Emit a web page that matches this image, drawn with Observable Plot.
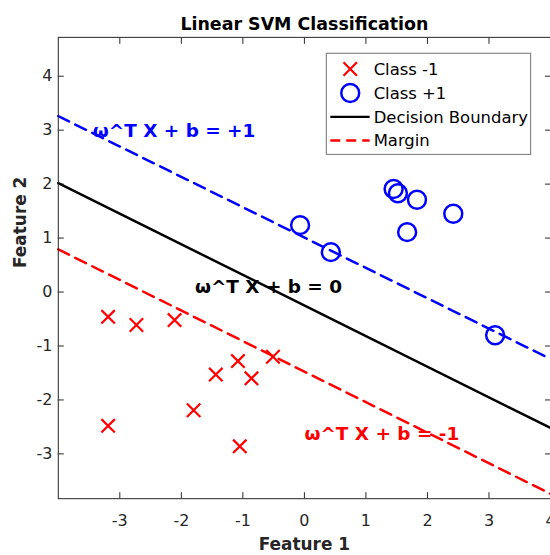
<!DOCTYPE html>
<html><head><meta charset="utf-8">
<script src="https://cdn.jsdelivr.net/npm/d3@7"></script>
<script src="https://cdn.jsdelivr.net/npm/@observablehq/plot@0.6"></script>
<style>
html,body{margin:0;padding:0;background:#fff;overflow:hidden;}
#chart{position:relative;width:550px;height:555px;overflow:hidden;}
</style></head><body><div id="chart"></div>
<script>
// ---- data ----
const xTicks = [-3, -2, -1, 0, 1, 2, 3, 4];
const yTicks = [-3, -2, -1, 0, 1, 2, 3, 4];

const negX = [-3.19, -2.73, -2.11, -3.19, -1.80, -1.44, -1.08, -0.86, -0.51, -1.05];
const negY = [-0.46, -0.61, -0.52, -2.48, -2.19, -1.53, -1.28, -1.60, -1.20, -2.86];

const posX = [-0.07, 0.43, 1.45, 1.52, 1.83, 1.67, 2.42, 3.10];
const posY = [1.24, 0.74, 1.91, 1.83, 1.71, 1.11, 1.45, -0.80];

const lineX = [-4, 4];
const boundaryY = [2.02, -2.52];
const marginPlusY = [3.26, -1.24];
const marginMinusY = [0.79, -3.74];

const annotText = ["ω^T X + b = +1", "ω^T X + b = 0", "ω^T X + b = -1"];
const annotX = [-3.44, -1.78, 0.0];
const annotY = [2.87, -0.01, -2.74];
const annotColor = ["#0000ff", "#000000", "#ff0000"];

const legendLabels = ["Class -1", "Class +1", "Decision Boundary", "Margin"];

const titleText = "Linear SVM Classification";
const xLabel = "Feature 1";
const yLabel = "Feature 2";

// ---- build tables ----
const font = "DejaVu Sans, sans-serif";
const ink = "#262626";
const RED = "#ff0000", BLUE = "#0000ff";
const neg = negX.map((x, i) => ({x, y: negY[i]}));
const pos = posX.map((x, i) => ({x, y: posY[i]}));
const boundary = lineX.map((x, i) => ({x, y: boundaryY[i]}));
const mPlus = lineX.map((x, i) => ({x, y: marginPlusY[i]}));
const mMinus = lineX.map((x, i) => ({x, y: marginMinusY[i]}));
const annot = annotText.map((t, i) => ({t, x: annotX[i], y: annotY[i], c: annotColor[i]}));

const plot = Plot.plot({
  width: 552, height: 555,
  marginLeft: 58, marginRight: 0, marginTop: 37, marginBottom: 55,
  x: {domain: [-4, 4]},
  y: {domain: [-3.83, 4.72]},
  color: {type: "identity"},
  style: {fontFamily: font, background: "white", color: ink, overflow: "visible"},
  marks: [
    Plot.axisX({anchor: "bottom", ticks: xTicks, tickSize: -6, tickPadding: 21.6, fontSize: 16, tickFormat: d => String(d), label: null, color: ink}),
    Plot.axisX({anchor: "top", ticks: xTicks, tickSize: -6, tickFormat: () => "", label: null, color: ink}),
    Plot.axisY({anchor: "left", ticks: yTicks, tickSize: -6, tickPadding: 12, fontSize: 16, tickFormat: d => String(d), label: null, color: ink}),
    Plot.axisY({anchor: "right", ticks: yTicks, tickSize: -6, tickFormat: () => "", label: null, color: ink}),
    Plot.line(boundary, {x: "x", y: "y", stroke: "#000", strokeWidth: 2.5}),
    Plot.line(mPlus, {x: "x", y: "y", stroke: BLUE, strokeWidth: 2.5, strokeDasharray: "12,7"}),
    Plot.line(mMinus, {x: "x", y: "y", stroke: RED, strokeWidth: 2.5, strokeDasharray: "12,7"}),
    Plot.dot(neg, {x: "x", y: "y", symbol: "times", r: 6.2, stroke: RED, strokeWidth: 2.2}),
    Plot.dot(pos, {x: "x", y: "y", symbol: "circle", r: 9, stroke: BLUE, strokeWidth: 2.5, fill: "none"}),
    Plot.text(annot, {x: "x", y: "y", text: "t", fill: "c", textAnchor: "start", lineAnchor: "bottom", fontSize: 18.5, fontWeight: "bold"}),
    Plot.frame({stroke: ink}),
    Plot.text([titleText], {frameAnchor: "top", dy: -7.7, lineAnchor: "bottom", fontSize: 17.5, fontWeight: "bold", fill: "#000"}),
    Plot.text([xLabel], {frameAnchor: "bottom", dy: 52, lineAnchor: "bottom", fontSize: 17, fontWeight: "bold", fill: ink}),
    Plot.text([yLabel], {frameAnchor: "left", dx: -32, rotate: -90, lineAnchor: "bottom", fontSize: 17, fontWeight: "bold", fill: ink})
  ]
});
document.getElementById("chart").appendChild(plot);

// ---- legend (inside plot area, top right) ----
const svg = d3.select(plot);
const lg = svg.append("g").attr("font-family", font).attr("font-size", 16.5).attr("text-anchor", "start");
lg.append("rect").attr("x", 327.5).attr("y", 53.5).attr("width", 205).attr("height", 101.5)
  .attr("fill", "white").attr("stroke", "#888").attr("stroke-width", 1.2);
const rowY = [69.3, 93.3, 117.3, 141];
const symX = 351.5;
const rows = lg.selectAll("g.row").data(legendLabels).join("g").attr("class", "row")
  .attr("transform", (d, i) => `translate(0,${rowY[i]})`);
rows.append("text").attr("x", 375).attr("dy", "0.35em").attr("text-anchor", "start").attr("fill", "#000").text(d => d);
rows.filter((d, i) => i === 0).append("path")
  .attr("transform", `translate(${symX},0)`)
  .attr("d", d3.symbol(d3.symbolTimes, 6.2 * 6.2 * Math.PI)())
  .attr("fill", "none").attr("stroke", RED).attr("stroke-width", 2.2);
rows.filter((d, i) => i === 1).append("circle")
  .attr("cx", symX).attr("r", 9).attr("fill", "none").attr("stroke", BLUE).attr("stroke-width", 2.5);
rows.filter((d, i) => i === 2).append("line")
  .attr("x1", 331.5).attr("x2", 371).attr("stroke", "#000").attr("stroke-width", 2.5);
rows.filter((d, i) => i === 3).append("line")
  .attr("x1", 331.5).attr("x2", 371).attr("stroke", RED).attr("stroke-width", 2.5).attr("stroke-dasharray", "10,6");
</script>
</body></html>
